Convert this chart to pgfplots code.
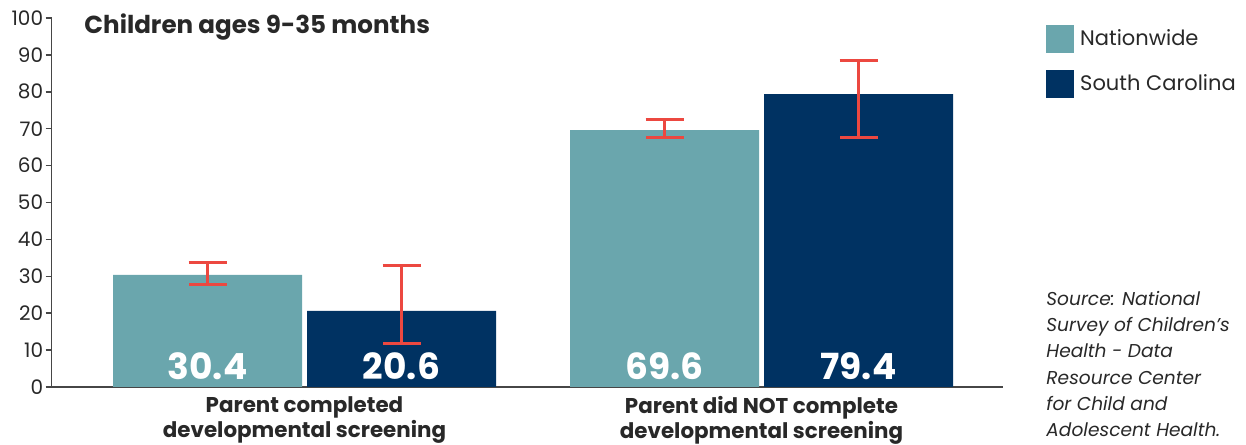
\documentclass[border=0pt]{standalone}
\usepackage{fontspec}
\setmainfont{Poppins}
\usepackage{pgfplots}
\pgfplotsset{compat=1.18}
\definecolor{natcol}{RGB}{106,166,173}
\definecolor{sccol}{RGB}{0,50,98}
\definecolor{errred}{RGB}{236,72,64}
\definecolor{axisgray}{RGB}{70,70,70}
\definecolor{txtgray}{RGB}{40,40,40}
\begin{document}
\begin{tikzpicture}
\path[use as bounding box] (0,0) rectangle (623pt,222pt);
\begin{axis}[
  at={(25.75pt,28.5pt)}, anchor=south west,
  scale only axis, width=475.75pt, height=184.5pt,
  xmin=0, xmax=951.5, ymin=0, ymax=100,
  axis lines=left,
  axis line style={-, draw=axisgray, line width=0.75pt},
  ytick={0,10,...,100},
  tick pos=left, tick align=outside,
  major tick length=3pt,
  y tick style={draw=axisgray, line width=0.75pt},
  yticklabel style={font=\fontsize{10}{12}\selectfont, text=txtgray, inner sep=1pt},
  /pgf/number format/assume math mode=true,
  xtick={253,710},
  xticklabels={{Parent completed\\developmental screening},{Parent did NOT complete\\developmental screening}},
  x tick style={draw=none},
  xticklabel style={align=center, font=\fontsize{10.7}{12.6}\selectfont\bfseries, text=txtgray, inner sep=0pt, yshift=-1.5pt},
  clip=false,
  legend style={at={(1.04519,0.98103)}, anchor=north west, draw=none, fill=none, inner sep=0pt,
    row sep=8.5pt, column sep=3pt, font=\fontsize{10.5}{12}\selectfont, text=txtgray,
    nodes={inner sep=0pt, anchor=west}},
  legend cell align=left,
]
\addlegendimage{legend image code/.code={\fill[natcol] (0pt,-6.75pt) rectangle (13.5pt,6.75pt);}}
\addlegendentry{Nationwide}
\addlegendimage{legend image code/.code={\fill[sccol] (0pt,-6.75pt) rectangle (13.5pt,6.75pt);}}
\addlegendentry{South Carolina}
\addplot[ybar, bar width=189, bar shift=0pt, fill=natcol, draw=none, forget plot,
  error bars/.cd, y dir=both, y explicit,
  error bar style={line width=1.5pt, color=errred},
  error mark options={rotate=90, mark size=9.5pt, line width=1.5pt, color=errred}]
  coordinates {(156,30.4) += (0,3.4) -= (0,2.7) (613,69.6) += (0,3.0) -= (0,2.0)};
\addplot[ybar, bar width=189, bar shift=0pt, fill=sccol, draw=none, forget plot,
  error bars/.cd, y dir=both, y explicit,
  error bar style={line width=1.5pt, color=errred},
  error mark options={rotate=90, mark size=9.5pt, line width=1.5pt, color=errred}]
  coordinates {(350,20.6) += (0,12.4) -= (0,8.7) (807,79.4) += (0,9.0) -= (0,11.8)};
\addplot[draw=none, mark=none, forget plot, nodes near coords, point meta=explicit symbolic,
  nodes near coords style={anchor=base, text=white, inner sep=0pt, font=\fontsize{18}{22}\selectfont\bfseries}]
  coordinates {(156,1.9) [30.4] (350,1.9) [20.6] (613,1.9) [69.6] (807,1.9) [79.4]};
\node[anchor=base west, inner sep=0pt, font=\fontsize{12.3}{15}\selectfont\bfseries, text=txtgray]
  at (rel axis cs:0.0342,0.9593) {Children ages 9-35 months};
\node[anchor=north west, inner sep=0pt, align=left, font=\fontsize{9.3}{13.1}\selectfont\itshape, text=txtgray]
  at (rel axis cs:1.04519,0.2602) {Source: National\\Survey of Children’s\\Health - Data\\Resource Center\\for Child and\\Adolescent Health.};
\end{axis}
\end{tikzpicture}
\end{document}
